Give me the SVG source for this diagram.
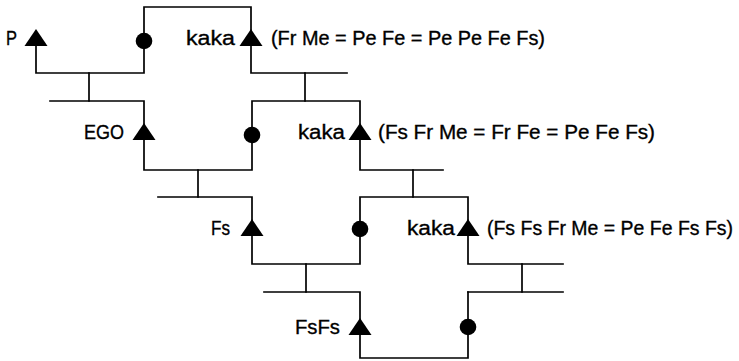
<svg xmlns="http://www.w3.org/2000/svg" width="739" height="361" viewBox="0 0 739 361">
<style>
.ln{fill:none;stroke:#000;stroke-width:1.7;stroke-linecap:square;stroke-linejoin:miter}
.t{font-family:"Liberation Sans Narrow","Liberation Sans",sans-serif;font-size:20.5px;fill:#000;stroke:#000;stroke-width:0.35}
.sym{fill:#000;stroke:none}
</style>
<defs>
<polygon id="tri" points="0,-16 11.5,1 -11.5,1"/>
<circle id="dot" cx="0" cy="-4" r="8.3"/>
</defs>
<rect width="739" height="361" fill="#fff"/>
<g id="connectors">
<path class="ln" d="M144,40 V7 H251 V40"/>
<path class="ln" d="M36,40 V73 H144 V40"/>
<path class="ln" d="M89,73 V101"/>
<path class="ln" d="M50,101 H144 V134"/>
<path class="ln" d="M251,40 V73 H347"/>
<path class="ln" d="M305,73 V101"/>
<path class="ln" d="M252,134 V101 H360 V134"/>
<path class="ln" d="M144,134 V170 H252 V134"/>
<path class="ln" d="M198,170 V197"/>
<path class="ln" d="M158,197 H252 V229"/>
<path class="ln" d="M360,134 V170 H443"/>
<path class="ln" d="M413,170 V197"/>
<path class="ln" d="M360,229 V197 H468 V229"/>
<path class="ln" d="M252,229 V264 H360 V229"/>
<path class="ln" d="M306,264 V292"/>
<path class="ln" d="M264,292 H360 V329"/>
<path class="ln" d="M468,229 V264 H563"/>
<path class="ln" d="M522,264 V292"/>
<path class="ln" d="M468,292 V329"/>
<path class="ln" d="M360,329 V358 H468 V329"/>
<path class="ln" d="M468,292 H563"/>
</g>
<g id="n-P"><use href="#tri" class="sym" x="36" y="45"/><text class="t" x="6" y="45" textLength="11" lengthAdjust="spacingAndGlyphs">P</text></g>
<g id="n-F1"><use href="#dot" class="sym" x="144" y="45"/></g>
<g id="n-kaka1"><use href="#tri" class="sym" x="251" y="45"/><text class="t" x="186" y="45" textLength="49" lengthAdjust="spacingAndGlyphs">kaka</text><text class="t" x="271" y="45" textLength="274" lengthAdjust="spacingAndGlyphs">(Fr Me = Pe Fe = Pe Pe Fe Fs)</text></g>
<g id="n-EGO"><use href="#tri" class="sym" x="144" y="139"/><text class="t" x="84" y="139" textLength="40" lengthAdjust="spacingAndGlyphs">EGO</text></g>
<g id="n-F2"><use href="#dot" class="sym" x="252" y="139"/></g>
<g id="n-kaka2"><use href="#tri" class="sym" x="360" y="139"/><text class="t" x="298" y="139" textLength="47" lengthAdjust="spacingAndGlyphs">kaka</text><text class="t" x="378" y="139" textLength="277" lengthAdjust="spacingAndGlyphs">(Fs Fr Me = Fr Fe = Pe Fe Fs)</text></g>
<g id="n-Fs"><use href="#tri" class="sym" x="252" y="235"/><text class="t" x="211" y="235" textLength="19" lengthAdjust="spacingAndGlyphs">Fs</text></g>
<g id="n-F3"><use href="#dot" class="sym" x="360" y="233"/></g>
<g id="n-kaka3"><use href="#tri" class="sym" x="468" y="235"/><text class="t" x="407" y="235" textLength="48" lengthAdjust="spacingAndGlyphs">kaka</text><text class="t" transform="translate(487,235) scale(0.95,1)" x="0" y="0">(Fs Fs Fr Me = Pe Fe Fs Fs)</text></g>
<g id="n-FsFs"><use href="#tri" class="sym" x="360" y="334"/><text class="t" x="295" y="334" textLength="45" lengthAdjust="spacingAndGlyphs">FsFs</text></g>
<g id="n-F4"><use href="#dot" class="sym" x="468" y="331"/></g>
</svg>
